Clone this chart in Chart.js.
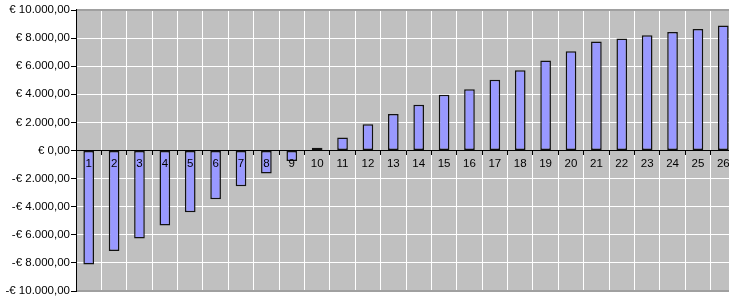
<!DOCTYPE html>
<html>
<head>
<meta charset="utf-8">
<title>Cash flow</title>
<script src="https://cdn.jsdelivr.net/npm/chart.js@4/dist/chart.umd.min.js"></script>
<style>
  html, body { margin: 0; padding: 0; background: #fff; overflow: hidden; }
  #wrap { position: relative; width: 736px; height: 303px; }
</style>
</head>
<body>
<div id="wrap"><canvas id="c"></canvas></div>
<script>
  // categorie (periodi) e valori cumulati
  const categories = ['1','2','3','4','5','6','7','8','9','10','11','12','13',
                      '14','15','16','17','18','19','20','21','22','23','24','25','26'];
  const values = [-8110, -7160, -6260, -5330, -4400, -3470, -2540, -1640, -740, 190,
                  930, 1860, 2600, 3260, 3960, 4360, 5030, 5710, 6410, 7070,
                  7760, 7980, 8210, 8430, 8640, 8890];
  const yTicks = [-10000, -8000, -6000, -4000, -2000, 0, 2000, 4000, 6000, 8000, 10000];

  const FONT = { family: "'Liberation Sans', Arial, sans-serif", size: 11.5 };

  function fmtEuro(v) {
    const abs = Math.abs(v);
    const s = abs.toFixed(0).replace(/\B(?=(\d{3})+(?!\d))/g, '.');
    return (v < 0 ? '-' : '') + '€ ' + s + ',00';
  }

  // sfondo grigio dell'area del grafico + bordo
  const plotArea = {
    id: 'plotArea',
    beforeDraw(chart) {
      const a = chart.chartArea, ctx = chart.ctx;
      ctx.save();
      ctx.fillStyle = '#c0c0c0';
      ctx.fillRect(a.left, a.top, a.right - a.left, a.bottom - a.top);
      ctx.restore();
    },
    beforeDatasetsDraw(chart) {
      const a = chart.chartArea, ctx = chart.ctx;
      ctx.save();
      ctx.strokeStyle = '#a0a0a0';
      ctx.lineWidth = 2;
      ctx.beginPath();
      ctx.moveTo(a.left, a.top); ctx.lineTo(a.right, a.top);
      ctx.moveTo(a.left, a.bottom); ctx.lineTo(a.right, a.bottom);
      ctx.stroke();
      ctx.strokeStyle = '#000';
      ctx.lineWidth = 1;
      ctx.beginPath();
      ctx.moveTo(a.left + 0.5, a.top - 1); ctx.lineTo(a.left + 0.5, a.bottom + 1);
      ctx.stroke();
      ctx.restore();
    }
  };

  new Chart(document.getElementById('c'), {
    type: 'bar',
    data: {
      labels: categories,
      datasets: [{
        data: values,
        backgroundColor: '#9999ff',
        borderColor: '#111111',
        borderWidth: 1.5,
        borderSkipped: false,
        barPercentage: 0.42,
        categoryPercentage: 1
      }]
    },
    options: {
      responsive: true,
      maintainAspectRatio: false,
      animation: false,
      layout: { padding: { top: 10, bottom: 12, left: 0, right: 0 } },
      plugins: { legend: { display: false }, tooltip: { enabled: false } },
      scales: {
        x: {
          position: { y: 0 },
          grid: { color: '#ffffff', lineWidth: 1, offset: true, tickLength: 4, tickColor: '#000' },
          border: { color: '#000', width: 1, z: 1 },
          ticks: { color: '#000', font: FONT, padding: 2, maxRotation: 0, autoSkip: false, z: 2 }
        },
        y: {
          min: -10000,
          max: 10000,
          afterBuildTicks: (s) => { s.ticks = yTicks.map(v => ({ value: v })); },
          afterFit: (s) => { s.width = 76; },
          grid: { color: '#ffffff', lineWidth: 1, tickLength: 5, tickColor: '#000' },
          border: { color: '#000', width: 1 },
          ticks: { color: '#000', font: FONT, padding: 1, callback: (v) => fmtEuro(v) }
        }
      }
    },
    plugins: [plotArea]
  });
</script>
</body>
</html>
